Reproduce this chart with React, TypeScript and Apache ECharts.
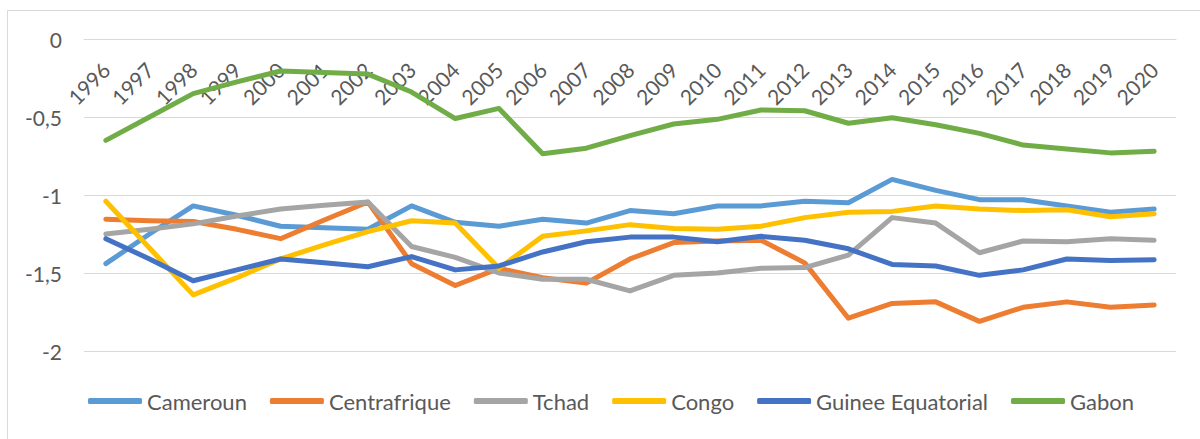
import React, { useEffect, useRef } from "react";
import * as echarts from "echarts";

const years = [
  "1996", "1997", "1998", "1999", "2000", "2001", "2002", "2003", "2004", "2005",
  "2006", "2007", "2008", "2009", "2010", "2011", "2012", "2013", "2014", "2015",
  "2016", "2017", "2018", "2019", "2020",
];

const cameroun = [
  -1.44, -1.25, -1.07, -1.13, -1.2, -1.21, -1.22, -1.07, -1.175, -1.2,
  -1.155, -1.18, -1.1, -1.12, -1.07, -1.07, -1.04, -1.05, -0.9, -0.97,
  -1.03, -1.03, -1.07, -1.11, -1.09,
];
const centrafrique = [
  -1.155, -1.165, -1.17, -1.22, -1.28, -1.16, -1.045, -1.44, -1.58, -1.47,
  -1.53, -1.565, -1.41, -1.305, -1.295, -1.29, -1.435, -1.79, -1.695, -1.685,
  -1.81, -1.72, -1.685, -1.72, -1.705,
];
const tchad = [
  -1.25, -1.22, -1.185, -1.135, -1.09, -1.065, -1.045, -1.33, -1.4, -1.5,
  -1.54, -1.54, -1.615, -1.515, -1.5, -1.47, -1.465, -1.385, -1.145, -1.18,
  -1.37, -1.295, -1.3, -1.28, -1.29,
];
const congo = [
  -1.04, -1.34, -1.64, -1.53, -1.41, -1.32, -1.235, -1.165, -1.18, -1.47,
  -1.265, -1.23, -1.19, -1.215, -1.22, -1.2, -1.145, -1.11, -1.105, -1.07,
  -1.09, -1.1, -1.095, -1.14, -1.12,
];
const guinee = [
  -1.28, -1.41, -1.55, -1.48, -1.41, -1.435, -1.46, -1.395, -1.48, -1.455,
  -1.365, -1.3, -1.27, -1.27, -1.3, -1.265, -1.29, -1.345, -1.445, -1.455,
  -1.515, -1.48, -1.41, -1.42, -1.415,
];
const gabon = [
  -0.65, -0.5, -0.35, -0.275, -0.205, -0.215, -0.225, -0.34, -0.51, -0.445,
  -0.735, -0.7, -0.62, -0.545, -0.515, -0.455, -0.46, -0.54, -0.505, -0.55,
  -0.605, -0.68, -0.705, -0.73, -0.72,
];

const seriesNames = ["Cameroun", "Centrafrique", "Tchad", "Congo", "Guinee Equatorial", "Gabon"];
const seriesData = [cameroun, centrafrique, tchad, congo, guinee, gabon];
const seriesColors = ["#5B9BD5", "#ED7D31", "#A5A5A5", "#FFC000", "#4472C4", "#70AD47"];

const FONT = "Lato";
const TEXT_COLOR = "#595959";

export default function App() {
  const ref = useRef<HTMLDivElement>(null);

  useEffect(() => {
    if (!ref.current) return;
    const chart = echarts.init(ref.current, null, { renderer: "svg" });
    chart.setOption({
      animation: false,
      backgroundColor: "#ffffff",
      graphic: [
        {
          type: "rect",
          shape: { x: 7.5, y: 10.5, width: 1300, height: 500 },
          style: { fill: "none", stroke: "#D9D9D9", lineWidth: 1 },
          silent: true,
        },
      ],
      grid: { left: 84, right: 24, top: 39, bottom: 88 },
      legend: {
        data: seriesNames,
        top: 385,
        left: 83,
        icon: "roundRect",
        itemWidth: 54,
        itemHeight: 6,
        itemGap: 23,
        textStyle: { fontFamily: FONT, fontSize: 22, color: TEXT_COLOR },
      },
      xAxis: {
        type: "category",
        data: years,
        position: "top",
        boundaryGap: true,
        axisLine: { show: true, lineStyle: { color: "#D9D9D9", width: 1 } },
        axisTick: { show: false },
        axisLabel: {
          inside: true,
          rotate: 45,
          interval: 0,
          margin: 27,
          fontFamily: FONT,
          fontSize: 21,
          color: TEXT_COLOR,
        },
      },
      yAxis: {
        type: "value",
        min: -2,
        max: 0,
        interval: 0.5,
        axisLine: { show: false },
        axisTick: { show: false },
        splitLine: { lineStyle: { color: "#D9D9D9", width: 1 } },
        axisLabel: {
          margin: 22,
          fontFamily: FONT,
          fontSize: 21,
          color: TEXT_COLOR,
          formatter: (v: number) => String(v).replace(".", ","),
        },
      },
      series: seriesNames.map((name, i) => ({
        name,
        type: "line",
        data: seriesData[i],
        symbol: "none",
        smooth: false,
        color: seriesColors[i],
        lineStyle: { color: seriesColors[i], width: 5, cap: "round", join: "round" },
      })),
    });
    return () => chart.dispose();
  }, []);

  return (
    <div
      ref={ref}
      style={{ position: "fixed", left: 0, top: 0, width: 1200, height: 439 }}
    />
  );
}
